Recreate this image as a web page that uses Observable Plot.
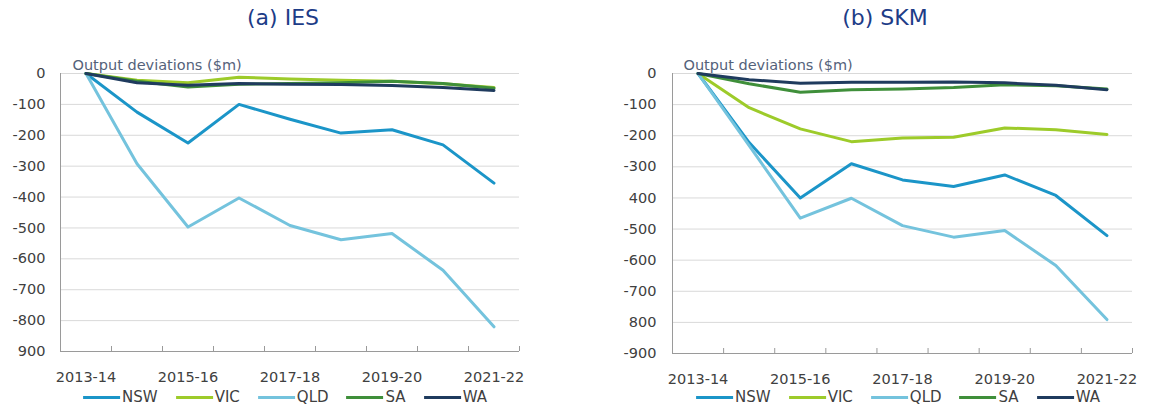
<!DOCTYPE html>
<html><head><meta charset="utf-8">
<script src="https://cdn.jsdelivr.net/npm/d3@7"></script>
<script src="https://cdn.jsdelivr.net/npm/@observablehq/plot@0.6"></script>
<style>
body{margin:0;background:#fff;font-family:"DejaVu Sans",sans-serif;}
#root{position:relative;width:1154px;height:408px;overflow:hidden;background:#fff;}
.title{position:absolute;top:5px;font-size:22px;color:#1d3c87;white-space:nowrap;transform:translateX(-50%);}
.panel{position:absolute;top:45px;}
.legend{position:absolute;top:388px;display:flex;align-items:center;font-size:15px;color:#404040;white-space:nowrap;transform:translateX(-50%);line-height:18px;}
.legend .item{display:flex;align-items:center;margin-right:18px;}
.legend .item:last-child{margin-right:0;}
.legend .swatch{width:37px;height:3px;margin-right:2px;}
</style>
</head><body>
<div id="root"></div>
<script>
const years = ["2013-14","2014-15","2015-16","2016-17","2017-18","2018-19","2019-20","2020-21","2021-22"];
const xLabelYears = ["2013-14","2015-16","2017-18","2019-20","2021-22"];
const states = ["NSW","VIC","QLD","SA","WA"];
const colors = ["#1b95c8","#9dcb2a","#74c3dd","#3f8f3a","#1f3b5e"];
const yTickValues = [0,-100,-200,-300,-400,-500,-600,-700,-800,-900];
const iesYTickLabels = ["0","-100","-200","-300","-400","-500","-600","-700","-800","900"];
const skmYTickLabels = ["0","-100","-200","-300","400","-500","-600","-700","800","-900"];
const yAxisTitle = "Output deviations ($m)";

// (a) IES
const iesNSW = [0,-125,-225,-100,-148,-193,-182,-231,-355];
const iesVIC = [0,-22,-30,-12,-18,-22,-25,-33,-45];
const iesQLD = [0,-292,-497,-403,-492,-538,-518,-637,-820];
const iesSA  = [0,-25,-44,-35,-32,-30,-25,-32,-48];
const iesWA  = [0,-30,-38,-32,-35,-36,-39,-45,-55];

// (b) SKM
const skmNSW = [0,-222,-400,-290,-342,-363,-326,-392,-521];
const skmVIC = [0,-110,-178,-219,-207,-205,-175,-181,-196];
const skmQLD = [0,-232,-465,-401,-489,-526,-505,-617,-791];
const skmSA  = [0,-33,-60,-52,-50,-45,-36,-39,-50];
const skmWA  = [0,-20,-31,-28,-28,-27,-30,-38,-52];

const root = document.getElementById("root");

function makePanel(series, yLabels, cfg) {
  const rows = [];
  states.forEach((s, k) => series[k].forEach((v, i) => rows.push({i, year: years[i], state: s, value: v})));
  const labelMap = new Map(yTickValues.map((v, k) => [v, yLabels[k]]));
  const boundaries = d3.range(years.length + 1).map(k => k - 0.5);
  const labelIdx = xLabelYears.map(y => years.indexOf(y));
  const yMin = d3.min(yTickValues), yMax = d3.max(yTickValues);
  return Plot.plot({
    width: cfg.width, height: 340,
    marginLeft: cfg.ml, marginRight: cfg.mr, marginTop: 28, marginBottom: cfg.mb,
    style: {fontFamily: "DejaVu Sans", fontSize: "14.5px", color: "#404040", background: "transparent", overflow: "visible"},
    x: {type: "linear", domain: [-0.5, years.length - 0.5], label: null},
    y: {domain: [yMin, yMax], label: null},
    color: {domain: states, range: colors},
    marks: [
      Plot.ruleY(yTickValues.filter(v => v !== yMin), {stroke: "#d9d9d9", strokeWidth: 1}),
      Plot.ruleY([yMin], {stroke: "#9a9a9a", strokeWidth: 1}),
      Plot.ruleX([-0.5], {stroke: "#9a9a9a", strokeWidth: 1}),
      Plot.axisY({ticks: yTickValues, tickSize: 0, tickPadding: cfg.yPad, tickFormat: d => labelMap.get(d), fill: "#404040", fontSize: 14.5, label: null}),
      Plot.axisX({ticks: boundaries, tickSize: -5, tickFormat: () => "", stroke: "#9a9a9a", label: null}),
      Plot.axisX({ticks: labelIdx, tickSize: 0, tickPadding: 20, tickFormat: i => years[i], fill: "#404040", fontSize: 14.5, label: null}),
      Plot.line(rows, {x: "i", y: "value", z: "state", stroke: "state", strokeWidth: 3, strokeLinejoin: "round", strokeLinecap: "round"}),
      Plot.text([yAxisTitle], {frameAnchor: "top-left", dx: cfg.tdx, dy: -8, lineAnchor: "middle", textAnchor: "start", fill: "#54627a", fontSize: 14.5})
    ]
  });
}

function addTitle(text, cx) {
  const t = document.createElement("div");
  t.className = "title"; t.textContent = text; t.style.left = cx + "px";
  root.appendChild(t);
}
function addLegend(cx) {
  const lg = document.createElement("div");
  lg.className = "legend"; lg.style.left = cx + "px";
  states.forEach((s, k) => {
    const it = document.createElement("div"); it.className = "item";
    const sw = document.createElement("div"); sw.className = "swatch"; sw.style.background = colors[k];
    const tx = document.createElement("span"); tx.textContent = s;
    it.appendChild(sw); it.appendChild(tx); lg.appendChild(it);
  });
  root.appendChild(lg);
}

addTitle("(a) IES", 283);
addTitle("(b) SKM", 885);

const pa = document.createElement("div"); pa.className = "panel"; pa.style.left = "0px";
pa.appendChild(makePanel([iesNSW, iesVIC, iesQLD, iesSA, iesWA], iesYTickLabels, {width: 577, ml: 60, mr: 58, mb: 34, yPad: 15, tdx: 12}));
root.appendChild(pa);

const pb = document.createElement("div"); pb.className = "panel"; pb.style.left = "580px";
pb.appendChild(makePanel([skmNSW, skmVIC, skmQLD, skmSA, skmWA], skmYTickLabels, {width: 574, ml: 92, mr: 22, mb: 32, yPad: 16, tdx: 11}));
root.appendChild(pb);

addLegend(285);
addLegend(898);
</script>
</body></html>
